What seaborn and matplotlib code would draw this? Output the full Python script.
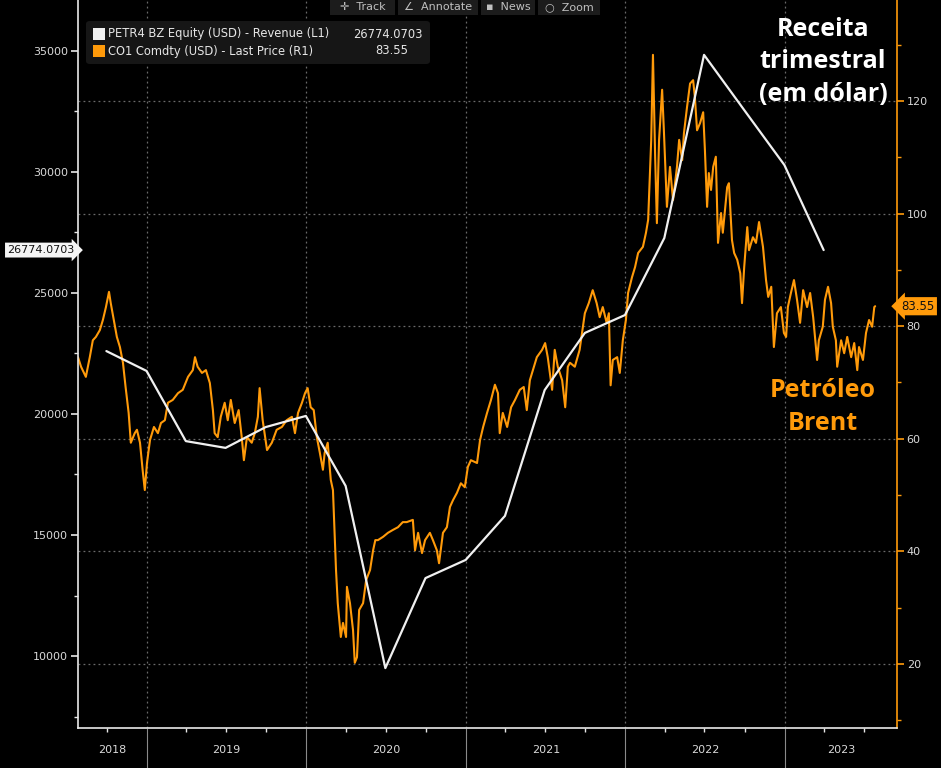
"""
Petrobras quarterly revenue (USD) against Brent front-month price,
Bloomberg-terminal look: black background, revenue on the left axis,
Brent on the right axis.
"""

import matplotlib.dates as mdates
import matplotlib.pyplot as plt
import matplotlib.transforms as mtransforms
import pandas as pd
import seaborn as sns
from matplotlib.patches import FancyBboxPatch, Rectangle

BG = "#000000"
ORANGE = "#ff9a0a"
WHITE = "#f0f0f0"
GRID = "#6a6a6a"
TICK_TEXT = "#d9d9d9"

W, H = 941, 768

# PETR4 BZ Equity - Revenue (L1), quarter ends, USD mn
revenue_dates = [
    "2018-09-30", "2018-12-31", "2019-03-31", "2019-06-30", "2019-09-30",
    "2019-12-31", "2020-03-31", "2020-06-30", "2020-09-30", "2020-12-31",
    "2021-03-31", "2021-06-30", "2021-09-30", "2021-12-31", "2022-03-31",
    "2022-06-30", "2022-09-30", "2022-12-31", "2023-03-31",
]
revenue_values = [
    22600, 21780, 18880, 18600, 19460,
    19920, 17030, 9500, 13220, 13970,
    15790, 20990, 23350, 24090, 27270,
    34840, 32560, 30290, 26774.0703,
]

# CO1 Comdty - Last Price (R1)
brent_dates = [
    # 2018
    "2018-07-27", "2018-08-03", "2018-08-14", "2018-08-23", "2018-08-30",
    "2018-09-06", "2018-09-15", "2018-09-22", "2018-09-29", "2018-10-06",
    "2018-10-10", "2018-10-17", "2018-10-24", "2018-10-31", "2018-11-07",
    "2018-11-13", "2018-11-20", "2018-11-25", "2018-12-04", "2018-12-09",
    "2018-12-16", "2018-12-22", "2018-12-27",
    # 2019
    "2019-01-01", "2019-01-08", "2019-01-17", "2019-01-26", "2019-02-02",
    "2019-02-11", "2019-02-18", "2019-03-01", "2019-03-13", "2019-03-24",
    "2019-04-05", "2019-04-16", "2019-04-21", "2019-04-27", "2019-05-07",
    "2019-05-16", "2019-05-25", "2019-06-01", "2019-06-05", "2019-06-12",
    "2019-06-19", "2019-06-28", "2019-07-05", "2019-07-12", "2019-07-21",
    "2019-07-30", "2019-08-06", "2019-08-11", "2019-08-18", "2019-08-29",
    "2019-09-05", "2019-09-12", "2019-09-16", "2019-09-23", "2019-10-03",
    "2019-10-14", "2019-10-25", "2019-11-06", "2019-11-17", "2019-11-29",
    "2019-12-06", "2019-12-13", "2019-12-22", "2019-12-29",
    # 2020
    "2020-01-04", "2020-01-11", "2020-01-18", "2020-01-25", "2020-02-01",
    "2020-02-08", "2020-02-12", "2020-02-19", "2020-02-26", "2020-03-02",
    "2020-03-09", "2020-03-13", "2020-03-20", "2020-03-25", "2020-04-01",
    "2020-04-03", "2020-04-10", "2020-04-17", "2020-04-21", "2020-04-26",
    "2020-05-01", "2020-05-10", "2020-05-17", "2020-05-26", "2020-06-02",
    "2020-06-07", "2020-06-13", "2020-06-25", "2020-07-06", "2020-07-17",
    "2020-07-29", "2020-08-09", "2020-08-18", "2020-09-01", "2020-09-06",
    "2020-09-13", "2020-09-22", "2020-09-29", "2020-10-10", "2020-10-17",
    "2020-10-26", "2020-10-31", "2020-11-09", "2020-11-18", "2020-11-25",
    "2020-12-02", "2020-12-11", "2020-12-20", "2020-12-29",
    # 2021
    "2021-01-05", "2021-01-12", "2021-01-26", "2021-02-02", "2021-02-09",
    "2021-02-18", "2021-02-27", "2021-03-08", "2021-03-15", "2021-03-19",
    "2021-03-26", "2021-04-05", "2021-04-14", "2021-04-23", "2021-05-04",
    "2021-05-13", "2021-05-20", "2021-05-27", "2021-06-03", "2021-06-12",
    "2021-06-24", "2021-07-01", "2021-07-07", "2021-07-17", "2021-07-23",
    "2021-07-30", "2021-08-09", "2021-08-16", "2021-08-22", "2021-08-27",
    "2021-09-07", "2021-09-18", "2021-09-30", "2021-10-09", "2021-10-18",
    "2021-10-27", "2021-11-03", "2021-11-10", "2021-11-19", "2021-11-24",
    "2021-11-28", "2021-12-03", "2021-12-13", "2021-12-19", "2021-12-26",
    # 2022
    "2022-01-02", "2022-01-07", "2022-01-16", "2022-01-23", "2022-01-30",
    "2022-02-10", "2022-02-17", "2022-02-22", "2022-03-01", "2022-03-05",
    "2022-03-10", "2022-03-14", "2022-03-19", "2022-03-26", "2022-03-30",
    "2022-04-06", "2022-04-13", "2022-04-20", "2022-04-29", "2022-05-04",
    "2022-05-11", "2022-05-15", "2022-05-22", "2022-05-29", "2022-06-05",
    "2022-06-09", "2022-06-14", "2022-06-21", "2022-06-28", "2022-07-02",
    "2022-07-07", "2022-07-11", "2022-07-16", "2022-07-21", "2022-07-27",
    "2022-08-01", "2022-08-08", "2022-08-12", "2022-08-22", "2022-08-26",
    "2022-09-02", "2022-09-07", "2022-09-14", "2022-09-21", "2022-09-25",
    "2022-09-30", "2022-10-07", "2022-10-11", "2022-10-20", "2022-10-27",
    "2022-11-03", "2022-11-12", "2022-11-19", "2022-11-24", "2022-12-01",
    "2022-12-07", "2022-12-14", "2022-12-23", "2022-12-30",
    # 2023
    "2023-01-04", "2023-01-08", "2023-01-15", "2023-01-22", "2023-01-29",
    "2023-02-05", "2023-02-12", "2023-02-21", "2023-02-28", "2023-03-07",
    "2023-03-16", "2023-03-20", "2023-03-29", "2023-04-03", "2023-04-10",
    "2023-04-17", "2023-04-21", "2023-04-28", "2023-05-01", "2023-05-10",
    "2023-05-17", "2023-05-24", "2023-06-02", "2023-06-09", "2023-06-16",
    "2023-06-20", "2023-06-29", "2023-07-06", "2023-07-13", "2023-07-20",
    "2023-07-25", "2023-07-27",
]
brent_values = [
    # 2018
    74.5, 72.8, 71.0, 74.5, 77.5,
    78.1, 79.3, 81.1, 83.4, 86.1,
    84.1, 81.1, 78.1, 76.3, 73.5,
    69.2, 64.6, 59.3, 61.0, 61.6,
    59.3, 54.5, 50.9,
    # 2019
    55.7, 59.8, 62.1, 61.0, 62.8,
    63.3, 66.4, 66.9, 68.1, 68.7,
    71.0, 72.2, 74.5, 72.8, 71.7,
    72.2, 69.9, 65.1, 61.0, 60.3,
    63.9, 66.4, 63.3, 66.9, 62.8,
    65.1, 60.3, 56.2, 60.3, 59.3,
    61.0, 63.9, 69.0, 63.3, 58.0,
    59.3, 61.6, 62.1, 63.3, 63.9,
    61.0, 64.6, 66.4, 68.1,
    # 2020
    69.0, 65.6, 65.1, 60.3, 57.5,
    54.5, 57.5, 59.3, 52.7, 50.9,
    36.7, 30.8, 24.8, 27.3, 24.8,
    33.7, 30.8, 26.0, 20.2, 21.2,
    29.6, 30.8, 34.9, 36.7, 40.2,
    42.0, 42.0, 42.6, 43.3, 43.8,
    44.3, 45.2, 45.2, 45.6, 40.2,
    43.3, 39.7, 42.0, 43.3, 42.0,
    40.2, 37.9, 43.3, 44.3, 47.9,
    49.1, 50.4, 52.1, 51.4,
    # 2021
    55.0, 56.2, 55.7, 59.8, 62.1,
    64.6, 66.9, 69.6, 68.1, 61.0,
    64.6, 62.1, 65.6, 66.9, 68.7,
    69.2, 65.1, 70.4, 72.2, 74.5,
    75.8, 77.0, 74.5, 68.7, 75.8,
    72.8, 70.4, 65.6, 72.8, 73.5,
    72.8, 75.8, 82.3, 84.1, 86.4,
    84.1, 81.6, 83.4, 80.6, 82.3,
    69.5, 74.0, 74.5, 71.7, 77.5,
    # 2022
    81.1, 85.9, 88.7, 90.5, 93.0,
    94.1, 96.6, 98.9, 113.1, 128.2,
    110.1, 98.3, 113.1, 122.0, 114.8,
    101.2, 108.3, 102.4, 108.3, 113.1,
    109.5, 114.3, 118.9, 123.1, 123.7,
    120.7, 114.8, 116.1, 118.0, 111.3,
    101.2, 107.2, 104.2, 108.3, 110.1,
    94.8, 100.1, 96.6, 104.7, 105.4,
    95.3, 93.0, 91.8, 89.4, 84.1,
    90.5, 97.6, 93.5, 95.8, 94.8,
    98.5, 94.1, 88.2, 85.2, 87.0,
    76.3, 82.3, 83.4, 78.8,
    # 2023
    78.1, 83.4, 85.9, 88.2, 84.7,
    80.6, 86.4, 83.4, 85.9, 81.6,
    74.0, 77.5, 79.9, 84.7, 87.0,
    84.1, 79.9, 77.5, 72.8, 77.5,
    75.2, 78.1, 74.5, 77.0, 72.2,
    76.3, 74.0, 78.8, 81.1, 79.9,
    83.4, 83.55,
]

years = ["2018", "2019", "2020", "2021", "2022", "2023"]
left_ticks = [10000, 15000, 20000, 25000, 30000, 35000]
right_ticks = [20, 40, 60, 80, 100, 120]

X_START, X_END = "2018-07-27", "2023-09-15"
LEFT_LIM = (7025, 37107)
RIGHT_LIM = (8.63, 137.94)


def fx(px):
    return px / W


def fy(py):
    return 1 - py / H


revenue = pd.DataFrame({"date": pd.to_datetime(revenue_dates), "value": revenue_values})
brent = pd.DataFrame({"date": pd.to_datetime(brent_dates), "value": brent_values})

sns.set_theme(style="dark", rc={
    "axes.facecolor": BG,
    "figure.facecolor": BG,
    "savefig.facecolor": BG,
    "axes.grid": False,
})
plt.rcParams["font.family"] = ["DejaVu Sans"]

fig = plt.figure(figsize=(W / 100, H / 100), dpi=100)
ax = fig.add_axes([fx(78), 40 / H, fx(897) - fx(78), 728 / H])
ax2 = ax.twinx()

# revenue axis drawn on top so the white line sits over the orange one
ax.set_zorder(ax2.get_zorder() + 1)
ax.patch.set_visible(False)
ax2.set_facecolor(BG)

# ---------------- grid (dotted, Bloomberg style) ----------------
for t in right_ticks:
    ax2.axhline(t, color=GRID, linestyle=(0, (1.5, 2.5)), linewidth=0.9, zorder=0)
for y in years[1:]:
    ax2.axvline(pd.Timestamp(f"{y}-01-01"), color=GRID, linestyle=(0, (1.5, 2.5)),
                linewidth=0.9, zorder=0)

# ---------------- series ----------------
sns.lineplot(data=brent, x="date", y="value", ax=ax2, color=ORANGE, linewidth=1.5,
             zorder=2, legend=False)
sns.lineplot(data=revenue, x="date", y="value", ax=ax, color=WHITE, linewidth=1.6,
             zorder=3, legend=False)

ax.set_xlabel("")
ax.set_ylabel("")
ax2.set_xlabel("")
ax2.set_ylabel("")

# ---------------- spines ----------------
ax.spines["top"].set_visible(False)
ax2.spines["top"].set_visible(False)
ax.spines["right"].set_visible(False)
ax2.spines["left"].set_visible(False)
ax2.spines["bottom"].set_visible(False)
ax.spines["left"].set_color("#e8e8e8")
ax.spines["bottom"].set_color("#e8e8e8")
ax.spines["left"].set_linewidth(1.2)
ax.spines["bottom"].set_linewidth(1.2)
ax2.spines["right"].set_color(ORANGE)
ax2.spines["right"].set_linewidth(1.2)

# ---------------- left axis ticks ----------------
ax.set_yticks(left_ticks)
ax.set_yticklabels([str(t) for t in left_ticks])
ax.set_yticks([v + 2500 for v in [5000] + left_ticks[:-1]], minor=True)
ax.tick_params(axis="y", which="major", left=True, length=5, width=1.2,
               color="#e8e8e8", labelcolor=TICK_TEXT, labelsize=8, pad=2)
ax.tick_params(axis="y", which="minor", left=True, length=3, width=1,
               color="#e8e8e8")

# ---------------- right axis ticks ----------------
ax2.set_yticks(right_ticks)
ax2.set_yticklabels([str(t) for t in right_ticks])
ax2.set_yticks([t + 10 for t in [0] + right_ticks], minor=True)
ax2.tick_params(axis="y", which="major", right=True, length=5, width=1.2,
                color=ORANGE, labelcolor=TICK_TEXT, labelsize=8, pad=2)
ax2.tick_params(axis="y", which="minor", right=True, length=3, width=1,
                color=ORANGE)

# ---------------- x axis: year separators + quarter ticks ----------------
year_starts = [pd.Timestamp(f"{y}-01-01") for y in years[1:]]
quarter_starts = [d for d in pd.date_range("2018-10-01", "2023-07-01", freq="QS")
                  if d.month != 1]
ax.set_xticks(year_starts)
ax.set_xticklabels([""] * len(year_starts))
ax.set_xticks(quarter_starts, minor=True)
ax.tick_params(axis="x", which="major", bottom=True, length=29, width=0.8,
               color="#8a8a8a", direction="out")
ax.tick_params(axis="x", which="minor", bottom=True, length=3, width=1,
               color="#e8e8e8", direction="out")
ax2.tick_params(axis="x", which="both", bottom=False, labelbottom=False)

# limits last: set_yticks may widen the view otherwise
ax.set_xlim(pd.Timestamp(X_START), pd.Timestamp(X_END))
ax.set_ylim(*LEFT_LIM)
ax2.set_ylim(*RIGHT_LIM)

bounds = [pd.Timestamp(X_START)] + year_starts + [pd.Timestamp(X_END)]
year_trans = mtransforms.blended_transform_factory(ax.transData, fig.transFigure)
for i, y in enumerate(years):
    mid = bounds[i] + (bounds[i + 1] - bounds[i]) / 2
    ax.text(mdates.date2num(mid), fy(750), y, transform=year_trans, ha="center",
            va="center", color=TICK_TEXT, fontsize=8)

# ---------------- last-value tags on the axes ----------------
ltag = mtransforms.blended_transform_factory(ax.transAxes, ax.transData)
ax.text(-0.004, revenue_values[-1], f"{revenue_values[-1]:.4f}", transform=ltag,
        ha="right", va="center", fontsize=8, color="#111111",
        bbox=dict(boxstyle="rarrow,pad=0.22", fc="#f4f4f4", ec="none"))
rtag = mtransforms.blended_transform_factory(ax2.transAxes, ax2.transData)
ax2.text(1.005, brent_values[-1], f"{brent_values[-1]:.2f}", transform=rtag,
         ha="left", va="center", fontsize=8.5, color="#111111",
         bbox=dict(boxstyle="larrow,pad=0.22", fc=ORANGE, ec="none"), zorder=5)

# ---------------- legend box ----------------
fig.patches.append(FancyBboxPatch(
    (fx(86), fy(64)), fx(430) - fx(86), fy(21) - fy(64),
    boxstyle="round,pad=0,rounding_size=0.004", transform=fig.transFigure,
    fc="#161616", ec="none", zorder=10))
legend_rows = [
    (34, WHITE, "PETR4 BZ Equity (USD) - Revenue (L1)", f"{revenue_values[-1]:.4f}", 423),
    (51, ORANGE, "CO1 Comdty (USD) - Last Price (R1)", f"{brent_values[-1]:.2f}", 408),
]
for row_y, colour, label, value, value_x in legend_rows:
    fig.patches.append(Rectangle((fx(93), fy(row_y + 6)), fx(12), 12 / H,
                                 transform=fig.transFigure, fc=colour, ec="none",
                                 zorder=11))
    fig.text(fx(108), fy(row_y), label, ha="left", va="center", color="#e6e6e6",
             fontsize=8.3, zorder=12)
    fig.text(fx(value_x), fy(row_y), value, ha="right", va="center",
             color="#e6e6e6", fontsize=8.3, zorder=12)

# ---------------- toolbar ----------------
toolbar = [("\u271b  Track", 330, 395), ("\u2220  Annotate", 398, 478),
           ("\u25aa  News", 481, 535), ("\u25cb  Zoom", 538, 600)]
for label, x0, x1 in toolbar:
    fig.patches.append(Rectangle((fx(x0), fy(15)), fx(x1 - x0), 15 / H,
                                 transform=fig.transFigure, fc="#1c1c1c",
                                 ec="none", zorder=10))
    fig.text(fx((x0 + x1) / 2), fy(7), label, ha="center", va="center",
             color="#c0c0c0", fontsize=8, zorder=12)

# ---------------- annotations ----------------
ann_font = ["Open Sans", "DejaVu Sans"]
fig.text(fx(823), fy(62), "Receita\ntrimestral\n(em dólar)", ha="center",
         va="center", color="white", fontsize=18, fontweight="bold",
         family=ann_font, linespacing=1.38)
fig.text(fx(823), fy(407), "Petróleo\nBrent", ha="center", va="center",
         color=ORANGE, fontsize=18, fontweight="bold", family=ann_font,
         linespacing=1.38)

fig.savefig("out.png", dpi=100, facecolor=BG)
